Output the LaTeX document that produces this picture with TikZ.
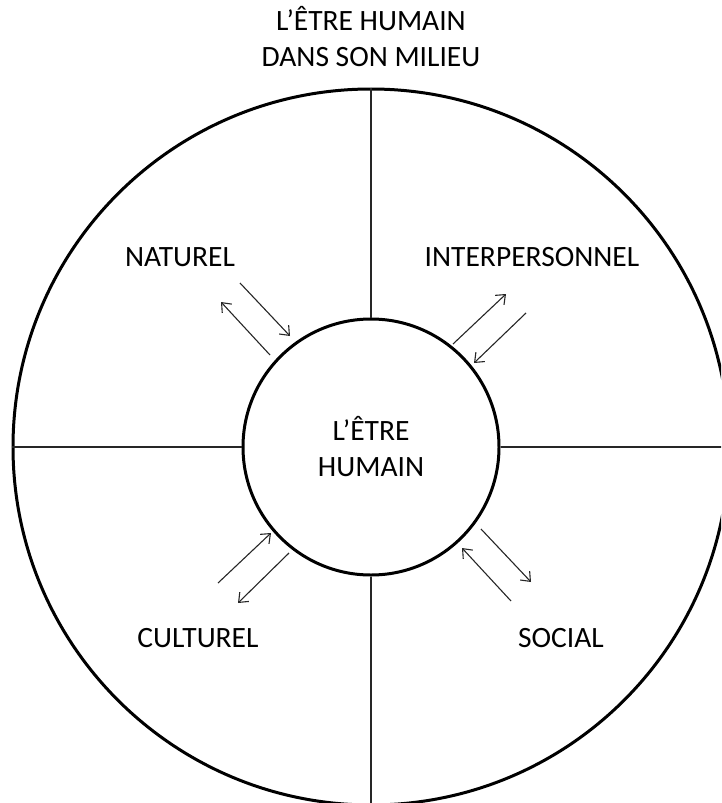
\documentclass[tikz,border=0pt]{standalone}
\usepackage{fontspec}
\setmainfont{Carlito}
\usetikzlibrary{arrows.meta}
\begin{document}
\begin{tikzpicture}[x=1pt,y=-1pt,
  lbl/.style={font=\fontsize{29.5}{36}\selectfont, align=center, inner sep=0pt},
  ring/.style={line width=3pt},
  divider/.style={line width=1.8pt, draw=black!85},
  flow/.style={line width=1.1pt, draw=black!85, -{Straight Barb[length=8pt,width=13pt,line width=1.1pt]}}]
\useasboundingbox (0,0) rectangle (721,803);
\begin{scope}
\clip (0,0) rectangle (721,803);
\node[circle, draw, ring, minimum size=716pt, inner sep=0pt] (outer) at (371,447) {};
\node[circle, draw, ring, minimum size=256pt, inner sep=0pt, lbl] (inner) at (371,447) {L’ÊTRE\\HUMAIN};
\coordinate (rimR) at (730,447);
\coordinate (rimB) at (371,810);
\draw[divider] (outer.north) -- (inner.north);
\draw[divider] (inner.south) -- (rimB);
\draw[divider] (outer.west) -- (inner.west);
\draw[divider] (inner.east) -- (rimR);
\end{scope}
\node[lbl] (title) at (371,37) {L’ÊTRE HUMAIN\\DANS SON MILIEU};
\node[lbl] (nat) at (180,257) {NATUREL};
\node[lbl] (inter) at (532,257.5) {INTERPERSONNEL};
\node[lbl] (cult) at (198,638) {CULTUREL};
\node[lbl] (soc) at (561,638) {SOCIAL};
% arrows
\coordinate (a1s) at (240,283); \coordinate (a1e) at (290,336);
\coordinate (a2s) at (270,355); \coordinate (a2e) at (221,302);
\coordinate (b1s) at (453,344); \coordinate (b1e) at (506,294);
\coordinate (b2s) at (526,313); \coordinate (b2e) at (474,363);
\coordinate (c1s) at (218,583); \coordinate (c1e) at (271,533);
\coordinate (c2s) at (289,553); \coordinate (c2e) at (238,603);
\coordinate (d1s) at (481,529); \coordinate (d1e) at (531,582);
\coordinate (d2s) at (511,601); \coordinate (d2e) at (462,548);
\draw[flow] (a1s) -- (a1e);
\draw[flow] (a2s) -- (a2e);
\draw[flow] (b1s) -- (b1e);
\draw[flow] (b2s) -- (b2e);
\draw[flow] (c1s) -- (c1e);
\draw[flow] (c2s) -- (c2e);
\draw[flow] (d1s) -- (d1e);
\draw[flow] (d2s) -- (d2e);
\end{tikzpicture}
\end{document}
